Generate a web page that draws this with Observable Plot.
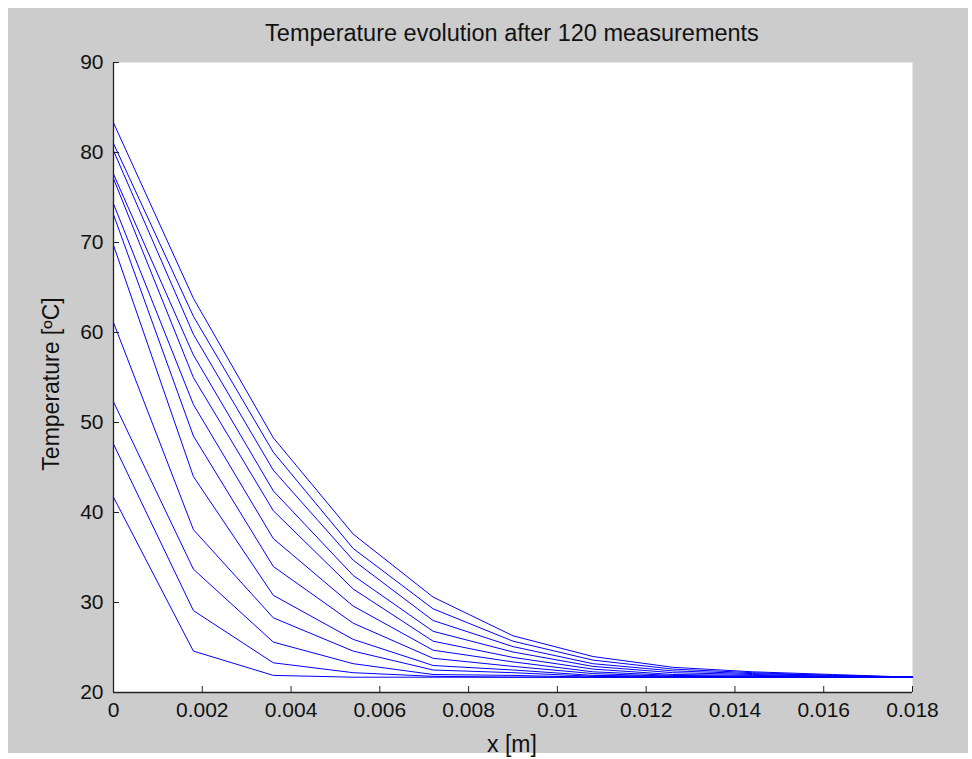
<!DOCTYPE html>
<html>
<head>
<meta charset="utf-8">
<script src="https://cdn.jsdelivr.net/npm/d3@7"></script>
<script src="https://cdn.jsdelivr.net/npm/@observablehq/plot@0.6"></script>
<style>
  html, body { margin: 0; padding: 0; background: #ffffff; }
  #wrap { position: relative; width: 972px; height: 759px; overflow: hidden; }
  #bg { position: absolute; left: 8px; top: 8px; right: 4px; bottom: 6px; background: #cccccc; }
  #chart { position: absolute; left: 0; top: 0; }
  .lbl { position: absolute; font-family: "Liberation Sans", Arial, sans-serif; color: #111; white-space: nowrap; }
  #title { left: 0; width: 1024px; top: 20px; text-align: center; font-size: 23.5px; }
  #xlabel { left: 0; width: 1024px; top: 731px; text-align: center; font-size: 23px; }
  #ylabel { left: 51px; top: 384px; font-size: 23px; transform: translate(-50%, -50%) rotate(-90deg); }
</style>
</head>
<body>
<div id="wrap">
  <div id="bg"></div>
  <div id="chart"></div>
  <div class="lbl" id="title">Temperature evolution after 120 measurements</div>
  <div class="lbl" id="xlabel">x [m]</div>
  <div class="lbl" id="ylabel">Temperature [ºC]</div>
</div>
<script>
// Node positions along the bar [m]
const positions = [0, 0.0018, 0.0036, 0.0054, 0.0072, 0.009, 0.0108, 0.0126, 0.0144, 0.0162, 0.018];

// Temperature profiles [ºC], one per snapshot
const profile1  = [83.3, 63.8, 48.3, 37.6, 30.6, 26.3, 24.0, 22.8, 22.3, 22.0, 21.7];
const profile2  = [81.0, 61.8, 46.7, 36.0, 29.3, 25.7, 23.6, 22.6, 22.2, 21.9, 21.7];
const profile3  = [80.2, 59.8, 44.7, 34.7, 28.0, 25.1, 23.2, 22.4, 22.1, 21.9, 21.7];
const profile4  = [77.6, 57.5, 42.4, 33.0, 26.8, 24.5, 22.9, 22.2, 22.0, 21.8, 21.7];
const profile5  = [77.1, 55.0, 40.2, 31.5, 25.7, 23.9, 22.6, 22.0, 21.9, 21.8, 21.7];
const profile6  = [74.3, 52.0, 37.1, 29.6, 24.7, 23.4, 22.3, 21.9, 21.8, 21.7, 21.7];
const profile7  = [73.1, 48.5, 34.0, 27.7, 23.8, 22.9, 22.1, 21.8, 21.7, 21.7, 21.7];
const profile8  = [69.7, 44.0, 30.8, 25.9, 23.0, 22.5, 21.9, 21.8, 21.7, 21.7, 21.7];
const profile9  = [61.1, 38.1, 28.3, 24.6, 22.5, 22.2, 21.8, 21.7, 21.7, 21.7, 21.7];
const profile10 = [52.3, 33.7, 25.6, 23.2, 22.0, 21.9, 21.7, 21.7, 21.7, 21.7, 21.7];
const profile11 = [47.6, 29.1, 23.3, 22.2, 21.8, 21.7, 21.7, 21.7, 21.7, 21.7, 21.7];
const profile12 = [41.7, 24.6, 21.9, 21.7, 21.7, 21.7, 21.7, 21.7, 21.7, 21.7, 21.7];

const profiles = [profile1, profile2, profile3, profile4, profile5, profile6,
                  profile7, profile8, profile9, profile10, profile11, profile12];

// Axis ticks
const xTicks = [0, 0.002, 0.004, 0.006, 0.008, 0.01, 0.012, 0.014, 0.016, 0.018];
const xTickLabels = ["0", "0.002", "0.004", "0.006", "0.008", "0.01", "0.012", "0.014", "0.016", "0.018"];
const yTicks = [20, 30, 40, 50, 60, 70, 80, 90];
const yTickLabels = ["20", "30", "40", "50", "60", "70", "80", "90"];

const data = profiles.flatMap((p, k) => p.map((t, i) => ({series: k, x: positions[i], t})));

const font = '"Liberation Sans", Arial, sans-serif';

const chart = Plot.plot({
  width: 972,
  height: 759,
  marginLeft: 113,
  marginRight: 60,
  marginTop: 62,
  marginBottom: 67,
  style: {background: "transparent", fontFamily: font, fontSize: "21px", color: "#111"},
  x: {domain: [0, 0.018]},
  y: {domain: [20, 90]},
  marks: [
    Plot.frame({fill: "white", stroke: null}),
    Plot.line(data, {x: "x", y: "t", z: "series", stroke: "#0000ff", strokeWidth: 1}),
    Plot.ruleX([0], {stroke: "#222", strokeWidth: 1.3}),
    Plot.ruleY([20], {stroke: "#222", strokeWidth: 1.3}),
    Plot.axisX({ticks: xTicks, tickFormat: (d, i) => xTickLabels[i], tickSize: -6, tickPadding: 16, stroke: "#222", label: null}),
    Plot.axisY({ticks: yTicks, tickFormat: (d, i) => yTickLabels[i], tickSize: -6, tickPadding: 16, stroke: "#222", label: null})
  ]
});
document.getElementById("chart").appendChild(chart);
</script>
</body>
</html>
